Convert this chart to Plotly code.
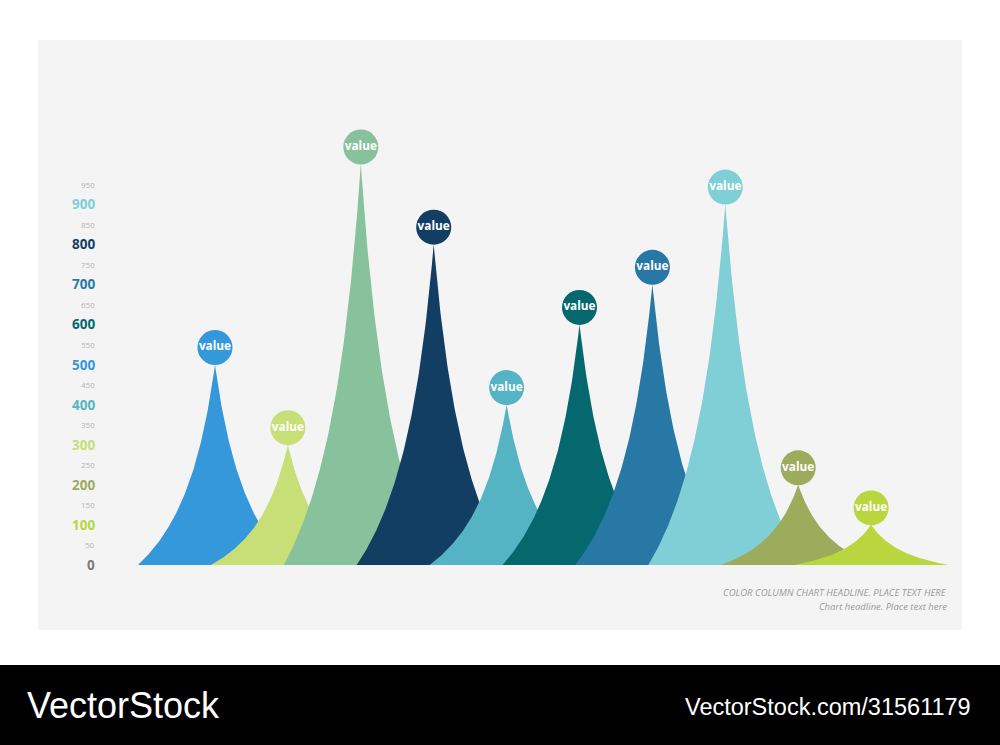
import numpy as np
import plotly.graph_objects as go

# peak values, one per coloured column, left to right
values = [500, 300, 1000, 800, 400, 600, 700, 900, 200, 100]
colors = ['#3498DB', '#C8DE76', '#88C29C', '#133E63', '#55B4C4',
          '#05686F', '#2878A6', '#80CFD6', '#9DAB5C', '#B9D63F']
bubble_text = ['value'] * 10

major_ticks = [0, 100, 200, 300, 400, 500, 600, 700, 800, 900]
minor_ticks = [50, 150, 250, 350, 450, 550, 650, 750, 850, 950]

headline = 'COLOR COLUMN CHART HEADLINE. PLACE TEXT HERE'
subline = 'Chart headline. Place text here'

W, H = 1000, 745
px_per_x = 72.9          # pixels per column slot
px_per_y = 0.401         # pixels per value unit
x0_px, y0_px = 215, 565  # where column 0 / value 0 land

half_w = 77 / px_per_x   # half base width, in column units
d = 0.55                 # curvature of the spike profile


def profile(t):
    # 1 at the tip (t=0), 0 at the base edge (t=1), concave spike
    return ((1 + d) / (t + d) - 1) * d


fig = go.Figure()

t = np.linspace(0, 1, 120)
for i, (v, c) in enumerate(zip(values, colors)):
    h = profile(t) * v
    xs = np.concatenate([i - half_w * t[::-1], i + half_w * t])
    ys = np.concatenate([h[::-1], h])
    fig.add_trace(go.Scatter(x=xs, y=ys, fill='toself', fillcolor=c,
                             line=dict(width=0), mode='lines',
                             hoverinfo='skip', showlegend=False))

# bubbles sitting on the tips
bubble_off = 17 / px_per_y
fig.add_trace(go.Scatter(
    x=list(range(len(values))), y=[v + bubble_off for v in values],
    mode='markers+text', text=bubble_text, textposition='middle center',
    marker=dict(size=35, color=colors, line=dict(width=0)),
    textfont=dict(family='Open Sans', size=11.8, color='white', weight='bold'),
    hoverinfo='skip', showlegend=False))

# y tick labels: majors take the colour of the column of that value
label_x = (97 - x0_px) / px_per_x
ann = []
for v in major_ticks:
    col = colors[values.index(v)] if v in values else '#7a7a7a'
    ann.append(dict(x=label_x, y=v, xref='x', yref='y', text='<b>%d</b>' % v,
                    showarrow=False, xanchor='right', yanchor='middle',
                    font=dict(family='Open Sans', size=13.5, color=col)))
for v in minor_ticks:
    ann.append(dict(x=label_x, y=v, xref='x', yref='y', text=str(v),
                    showarrow=False, xanchor='right', yanchor='middle',
                    font=dict(family='Open Sans', size=8, color='#b3b3b3')))

ann.append(dict(x=949 / W, y=1 - 592 / H, xref='paper', yref='paper', text='<i>%s</i>' % headline,
                showarrow=False, xanchor='right', yanchor='middle',
                font=dict(family='Open Sans', size=9.6, color='#9a9a9a')))
ann.append(dict(x=949 / W, y=1 - 606 / H, xref='paper', yref='paper', text='<i>%s</i>' % subline,
                showarrow=False, xanchor='right', yanchor='middle',
                font=dict(family='Open Sans', size=9.5, color='#9a9a9a')))

# watermark strip
ann.append(dict(x=25 / W, y=1 - 705 / H, xref='paper', yref='paper', text='VectorStock',
                showarrow=False, xanchor='left', yanchor='middle',
                font=dict(family='Liberation Sans', size=36, color='white')))
ann.append(dict(x=973 / W, y=1 - 707 / H, xref='paper', yref='paper', text='VectorStock.com/31561179',
                showarrow=False, xanchor='right', yanchor='middle',
                font=dict(family='Liberation Sans', size=23.5, color='white')))

shapes = [
    dict(type='rect', xref='paper', yref='paper', x0=38 / W, x1=962 / W,
         y0=1 - 630 / H, y1=1 - 40 / H, fillcolor='#F4F4F4', line=dict(width=0), layer='below'),
    dict(type='rect', xref='paper', yref='paper', x0=0, x1=1,
         y0=0, y1=1 - 665 / H, fillcolor='black', line=dict(width=0), layer='below'),
]

fig.update_layout(
    width=W, height=H, margin=dict(l=0, r=0, t=0, b=0),
    paper_bgcolor='white', plot_bgcolor='rgba(0,0,0,0)',
    xaxis=dict(range=[-x0_px / px_per_x, (W - x0_px) / px_per_x], visible=False, fixedrange=True),
    yaxis=dict(range=[-(H - y0_px) / px_per_y, y0_px / px_per_y], visible=False, fixedrange=True),
    annotations=ann, shapes=shapes,
)

fig.write_html('out.html', config={'displayModeBar': False},
               post_script="document.body.style.margin='0';document.body.style.overflow='hidden';")
